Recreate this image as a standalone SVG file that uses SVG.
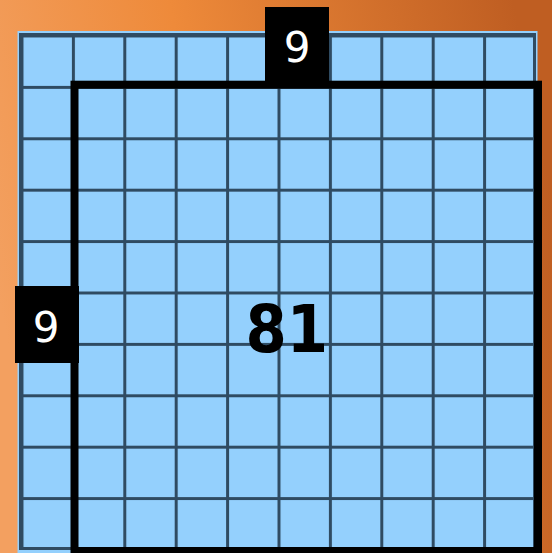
<svg xmlns="http://www.w3.org/2000/svg" width="552" height="553" viewBox="0 0 552 553">
<defs>
<linearGradient id="bg" x1="0" y1="0.55" x2="1" y2="0.35">
<stop offset="0" stop-color="#f3a060"/>
<stop offset="0.4" stop-color="#ee8a3a"/>
<stop offset="1" stop-color="#bf5e22"/>
</linearGradient>
<pattern id="grid" x="20.5" y="34.5" width="51.4" height="51.4" patternUnits="userSpaceOnUse">
<rect width="51.4" height="51.4" fill="#94d0fd"/>
<path d="M0 0H51.4M0 0V51.4" stroke="#2f4b62" stroke-width="6" fill="none"/>
</pattern>
</defs>
<style>
.lbl{fill:#000}
.lt{font-family:"DejaVu Sans",sans-serif;font-size:42px;fill:#fff;text-anchor:middle}
.big{font-family:"DejaVu Sans Condensed","DejaVu Sans",sans-serif;font-stretch:condensed;font-weight:bold;font-size:66px;fill:#000;text-anchor:middle}
</style>
<rect width="552" height="553" fill="url(#bg)"/>
<g id="grid-board">
<rect x="17.5" y="31" width="520" height="525" fill="#94d0fd"/>
<rect x="20.5" y="34.5" width="514" height="514" fill="url(#grid)"/>
<rect x="20.5" y="34.5" width="514" height="514" fill="none" stroke="#2f4b62" stroke-width="3"/>
</g>
<g id="connectors"></g>
<g id="square-9x9">
<rect x="74.5" y="84.7" width="463.5" height="466.3" fill="none" stroke="#000" stroke-width="8"/>
</g>
<g id="label-top">
<rect class="lbl" x="265" y="7" width="64" height="78"/>
<text class="lt" x="297" y="62">9</text>
</g>
<g id="label-left">
<rect class="lbl" x="15" y="286" width="64" height="77"/>
<text class="lt" x="46" y="341.5">9</text>
</g>
<g id="area">
<text class="big" x="286.7" y="351.7">81</text>
</g>
</svg>
